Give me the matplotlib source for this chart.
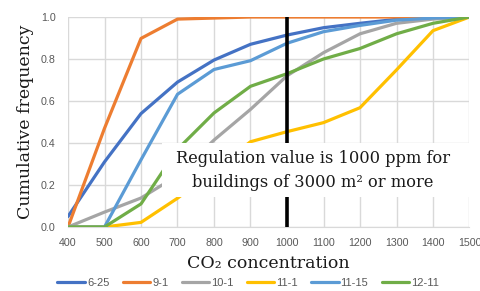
import matplotlib
matplotlib.use("Agg")
import matplotlib.pyplot as plt
from matplotlib.patches import Rectangle

x_vals = [400, 500, 600, 700, 800, 900, 1000, 1100, 1200, 1300, 1400, 1500]
series_names = ["6-25", "9-1", "10-1", "11-1", "11-15", "12-11"]
s_6_25 = [0.05, 0.31, 0.54, 0.69, 0.795, 0.87, 0.914, 0.949, 0.97, 0.989, 0.997, 1.0]
s_9_1 = [0.0, 0.47, 0.898, 0.99, 0.995, 1.0, 1.0, 1.0, 1.0, 1.0, 1.0, 1.0]
s_10_1 = [0.0, 0.071, 0.138, 0.245, 0.414, 0.56, 0.72, 0.83, 0.92, 0.97, 0.99, 1.0]
s_11_1 = [0.0, 0.0, 0.022, 0.137, 0.27, 0.406, 0.454, 0.497, 0.568, 0.748, 0.935, 1.0]
s_11_15 = [0.0, 0.0, 0.32, 0.632, 0.75, 0.792, 0.875, 0.93, 0.96, 0.985, 0.995, 1.0]
s_12_11 = [0.0, 0.0, 0.11, 0.37, 0.543, 0.67, 0.73, 0.8, 0.85, 0.92, 0.97, 1.0]
series_values = [s_6_25, s_9_1, s_10_1, s_11_1, s_11_15, s_12_11]
colors = ["#4472C4", "#ED7D31", "#A5A5A5", "#FFC000", "#5B9BD5", "#70AD47"]
x_ticks = list(range(400, 1501, 100))
y_ticks = [0.0, 0.2, 0.4, 0.6, 0.8, 1.0]
regulation_x = 1000
annotation = "Regulation value is 1000 ppm for\nbuildings of 3000 m² or more"

W, H = 481, 291
fig = plt.figure(figsize=(W / 100, H / 100), dpi=100)
ax = fig.add_axes([68 / W, 1 - 227 / H, (469.5 - 68) / W, (227 - 17) / H])

for name, vals, c in zip(series_names, series_values, colors):
    ax.plot(x_vals, vals, color=c, lw=2.3, label=name, solid_capstyle="round", zorder=3)

ax.plot([regulation_x, regulation_x], [0, 1], color="black", lw=2.6, zorder=4)

ax.set_xlim(400, 1500)
ax.set_ylim(0, 1.0)
ax.set_xticks(x_ticks)
ax.set_yticks(y_ticks)
ax.set_yticklabels([f"{v:.1f}" for v in y_ticks])
ax.grid(True, color="#D9D9D9", lw=1.0)
ax.set_axisbelow(True)
for sp in ax.spines.values():
    sp.set_visible(False)
ax.spines["bottom"].set_visible(True)
ax.spines["bottom"].set_color("#D9D9D9")
sans = ["Liberation Sans", "DejaVu Sans"]
ax.tick_params(axis="both", length=0, labelsize=7.7, labelcolor="#595959")
for lbl in ax.get_xticklabels() + ax.get_yticklabels():
    lbl.set_family(sans)
ax.tick_params(axis="x", pad=8)
ax.tick_params(axis="y", pad=9)

serif = ["DejaVu Serif"]
ax.set_xlabel("CO₂ concentration", fontsize=12.5, family=serif, color="#1a1a1a", labelpad=5)
ax.set_ylabel("Cumulative frequency", fontsize=12.5, family=serif, color="#1a1a1a", labelpad=5)

# white annotation box
ax.add_patch(Rectangle((0.234, 0.143), 0.79, 0.257, transform=ax.transAxes,
                       facecolor="white", edgecolor="none", zorder=5, clip_on=False))
ax.text(0.61, 0.27, annotation, transform=ax.transAxes, ha="center", va="center",
        fontsize=11.7, family=serif, color="#1a1a1a", zorder=6, linespacing=1.55)

fig.legend(loc="center", bbox_to_anchor=(0.516, 1 - 283 / H), ncol=6, frameon=False,
           prop={"family": sans, "size": 8}, labelcolor="#595959", handlelength=2.5,
           handletextpad=0.15, columnspacing=1.2, borderaxespad=0)

fig.savefig("out.png", dpi=100)
